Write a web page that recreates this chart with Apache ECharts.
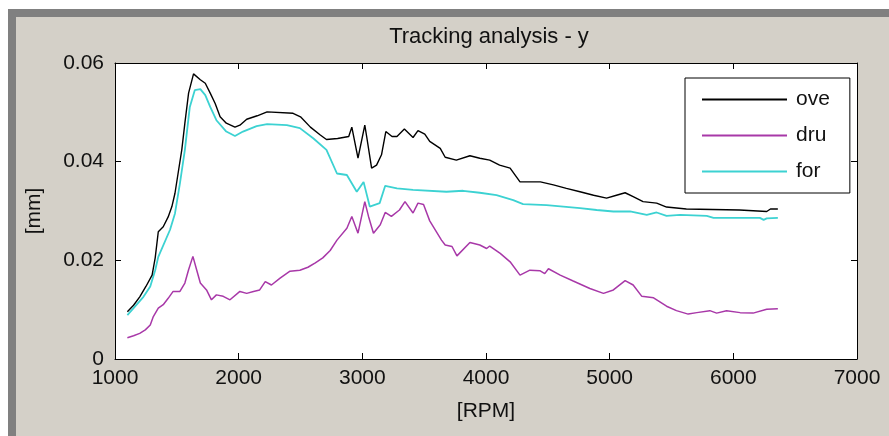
<!DOCTYPE html>
<html>
<head>
<meta charset="utf-8">
<script src="https://cdn.jsdelivr.net/npm/echarts@6/dist/echarts.min.js"></script>
<style>
html,body{margin:0;padding:0;background:#ffffff;}
#chart{width:889px;height:436px;}
</style>
</head>
<body>
<div id="chart"></div>
<script>
// ---- data ----
const xTicks = [1000, 2000, 3000, 4000, 5000, 6000, 7000];
const yTicks = [0, 0.02, 0.04, 0.06];
const seriesNames = ['ove', 'dru', 'for'];

const oveRpm = [1100,1150,1200,1250,1300,1325,1350,1390,1430,1460,1485,1510,1540,1565,1595,1635,1690,1730,1770,1810,1850,1900,1970,2010,2065,2150,2230,2440,2500,2580,2660,2710,2800,2890,2915,2965,3020,3035,3075,3115,3155,3190,3240,3280,3340,3410,3450,3505,3545,3630,3670,3760,3870,3950,4030,4110,4195,4275,4440,4545,4650,4760,4870,4975,5055,5125,5190,5270,5380,5460,5620,6050,6270,6300,6360];
const oveVal = [0.0096,0.0109,0.0126,0.0147,0.0170,0.0205,0.0258,0.0268,0.0288,0.0309,0.0336,0.0376,0.0424,0.0478,0.0539,0.0578,0.0566,0.0559,0.0539,0.0518,0.0491,0.0478,0.0470,0.0474,0.0486,0.0493,0.0501,0.0498,0.0491,0.0470,0.0454,0.0445,0.0447,0.0451,0.0470,0.0407,0.0474,0.0451,0.0387,0.0393,0.0414,0.0461,0.0451,0.0451,0.0466,0.0449,0.0463,0.0456,0.0441,0.0427,0.0409,0.0403,0.0412,0.0407,0.0403,0.0393,0.0387,0.0359,0.0359,0.0353,0.0346,0.0339,0.0332,0.0326,0.0332,0.0337,0.0329,0.0319,0.0316,0.0308,0.0304,0.0302,0.0299,0.0304,0.0304];

const druRpm = [1100,1150,1200,1245,1285,1310,1350,1390,1430,1470,1525,1565,1595,1630,1660,1690,1740,1780,1820,1875,1930,2010,2065,2120,2170,2215,2265,2335,2415,2495,2560,2620,2680,2740,2795,2875,2915,2965,3020,3050,3090,3145,3185,3235,3300,3345,3410,3450,3495,3545,3640,3670,3725,3765,3870,3950,4005,4030,4115,4195,4275,4355,4435,4475,4505,4600,4705,4840,4950,5030,5125,5190,5260,5355,5460,5540,5635,5650,5705,5810,5865,5945,6055,6160,6270,6360];
const druVal = [0.0043,0.0047,0.0052,0.0059,0.0069,0.0086,0.0103,0.0110,0.0123,0.0137,0.0137,0.0154,0.0181,0.0208,0.0181,0.0154,0.0140,0.0120,0.0130,0.0127,0.0120,0.0137,0.0133,0.0137,0.0140,0.0157,0.0150,0.0164,0.0178,0.0180,0.0186,0.0195,0.0205,0.0220,0.0241,0.0265,0.0289,0.0255,0.0319,0.0289,0.0255,0.0272,0.0297,0.0289,0.0302,0.0319,0.0296,0.0316,0.0313,0.0280,0.0241,0.0231,0.0228,0.0209,0.0236,0.0231,0.0224,0.0229,0.0214,0.0197,0.0170,0.0180,0.0179,0.0173,0.0183,0.0170,0.0158,0.0143,0.0133,0.0140,0.0159,0.0150,0.0127,0.0124,0.0107,0.0098,0.0091,0.0087,0.0094,0.0098,0.0093,0.0098,0.0094,0.0093,0.0101,0.0102];

const forRpm = [1100,1150,1230,1285,1325,1350,1445,1485,1525,1565,1605,1645,1690,1730,1770,1820,1900,1970,2035,2145,2230,2390,2495,2605,2710,2795,2875,2955,3010,3060,3140,3185,3280,3410,3680,3815,3950,4085,4220,4300,4490,4625,4760,4895,5030,5165,5300,5380,5460,5570,5785,5840,6215,6245,6270,6360];
const forVal = [0.0089,0.0103,0.0126,0.0147,0.0180,0.0207,0.0262,0.0295,0.0356,0.0424,0.0511,0.0545,0.0547,0.0535,0.0511,0.0484,0.0461,0.0452,0.0461,0.0472,0.0476,0.0474,0.0468,0.0447,0.0424,0.0376,0.0373,0.0339,0.0359,0.0309,0.0316,0.0351,0.0346,0.0343,0.0339,0.0341,0.0337,0.0332,0.0322,0.0314,0.0312,0.0309,0.0306,0.0302,0.0299,0.0299,0.0292,0.0297,0.0290,0.0292,0.0290,0.0286,0.0286,0.0282,0.0285,0.0286];

// ---- chart ----
const FONT = 'Liberation Sans, Arial, sans-serif';
const zip = (a, b) => a.map((v, i) => [v, b[i]]);
const chart = echarts.init(document.getElementById('chart'), null, {renderer: 'canvas'});

const baseX = {
  type: 'value', min: xTicks[0], max: xTicks[xTicks.length - 1], interval: 1000,
  splitLine: {show: false},
  axisLine: {show: true, onZero: false, lineStyle: {color: '#000', width: 1}},
  axisTick: {show: true, inside: true, length: 6, lineStyle: {color: '#000'}}
};
const baseY = {
  type: 'value', min: yTicks[0], max: yTicks[yTicks.length - 1], interval: 0.02,
  splitLine: {show: false},
  axisLine: {show: true, onZero: false, lineStyle: {color: '#000', width: 1}},
  axisTick: {show: true, inside: true, length: 6, lineStyle: {color: '#000'}}
};

chart.setOption({
  animation: false,
  backgroundColor: '#ffffff',
  graphic: [
    {type: 'rect', shape: {x: 8, y: 9, width: 881, height: 427}, style: {fill: '#808080'}, z: -10, silent: true},
    {type: 'rect', shape: {x: 16, y: 17, width: 873, height: 419}, style: {fill: '#d4d0c8'}, z: -9, silent: true}
  ],
  title: {
    text: 'Tracking analysis - y',
    left: 484, top: 21, textAlign: 'center',
    textStyle: {fontFamily: FONT, fontSize: 22, fontWeight: 'normal', color: '#111'}
  },
  grid: {left: 115, top: 63, right: 32, bottom: 77, show: true, backgroundColor: '#ffffff', borderWidth: 0},
  legend: {
    orient: 'vertical', left: 685, top: 78,
    data: seriesNames,
    icon: 'rect',
    itemWidth: 85, itemHeight: 2, itemGap: 15,
    padding: [11, 20, 11, 17],
    backgroundColor: '#ffffff', borderColor: '#000', borderWidth: 1, borderRadius: 0,
    textStyle: {fontFamily: FONT, fontSize: 21, color: '#111', padding: [0, 0, 0, 4]}
  },
  xAxis: [
    Object.assign({}, baseX, {
      position: 'bottom', name: '[RPM]', nameLocation: 'middle', nameGap: 42,
      nameTextStyle: {fontFamily: FONT, fontSize: 21, color: '#111'},
      axisLabel: {fontFamily: FONT, fontSize: 21, color: '#111', margin: 9,
        formatter: v => String(v)}
    }),
    Object.assign({}, baseX, {position: 'top', axisLabel: {show: false}})
  ],
  yAxis: [
    Object.assign({}, baseY, {
      position: 'left', name: '[mm]', nameLocation: 'middle', nameGap: 70,
      nameTextStyle: {fontFamily: FONT, fontSize: 21, color: '#111'},
      axisLabel: {fontFamily: FONT, fontSize: 21, color: '#111', margin: 11,
        formatter: v => (v === 0 ? '0' : v.toFixed(2))}
    }),
    Object.assign({}, baseY, {position: 'right', axisLabel: {show: false}})
  ],
  series: [
    {name: 'ove', type: 'line', data: zip(oveRpm, oveVal), symbol: 'none', lineStyle: {color: '#000000', width: 1.4}, itemStyle: {color: '#000000'}, z: 3},
    {name: 'dru', type: 'line', data: zip(druRpm, druVal), symbol: 'none', lineStyle: {color: '#a838a8', width: 1.5}, itemStyle: {color: '#a838a8'}, z: 2},
    {name: 'for', type: 'line', data: zip(forRpm, forVal), symbol: 'none', lineStyle: {color: '#3cd2d2', width: 1.8}, itemStyle: {color: '#3cd2d2'}, z: 2}
  ]
});
</script>
</body>
</html>
